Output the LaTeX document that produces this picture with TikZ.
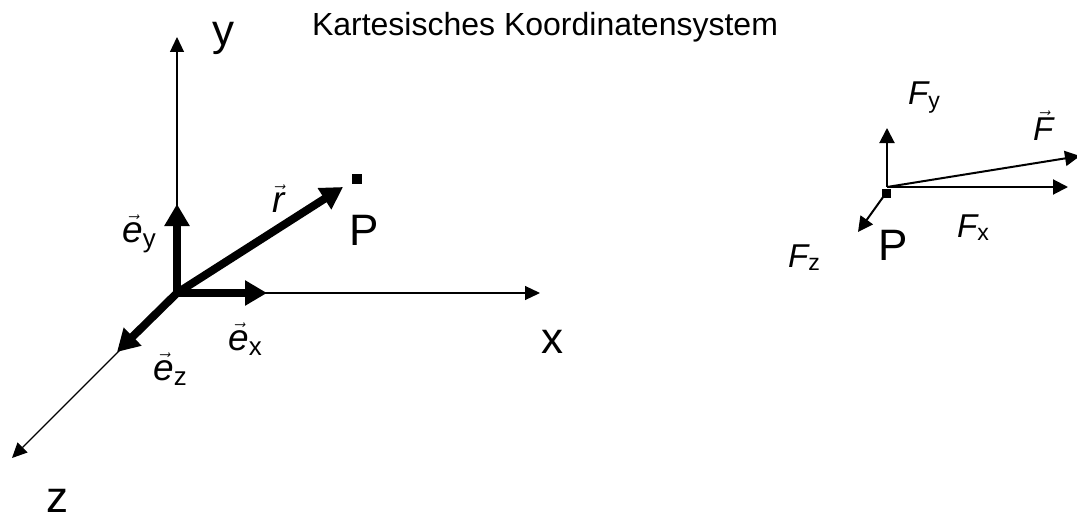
\documentclass[tikz,border=0pt]{standalone}
\usepackage{fontspec}
\setmainfont{Liberation Sans}
\usetikzlibrary{arrows.meta}

\newcommand{\vecit}[1]{$\vec{\mbox{\itshape #1}}$}

\begin{document}
\begin{tikzpicture}[x=1pt, y=-1pt,
  axis/.style={line width=1.2pt, -{Triangle[length=15pt,width=14pt]}},
  unitvec/.style={line width=8pt, line cap=round, -{Triangle[length=22pt,width=24pt]}},
  force/.style={line width=2pt, -{Triangle[length=15pt,width=15pt]}},
  biglabel/.style={font=\fontsize{44}{44}\selectfont, inner sep=0pt},
  veclabel/.style={font=\fontsize{37}{37}\selectfont, inner sep=0pt},
  forcelabel/.style={font=\fontsize{33}{33}\selectfont, inner sep=0pt}]
\useasboundingbox (0,0) rectangle (1077,519);
\node[font=\fontsize{32}{32}\selectfont, inner sep=0pt, anchor=base] (title) at (545,36) {Kartesisches Koordinatensystem};

% left: the coordinate system
\coordinate (O) at (177,293);
\coordinate (xtip) at (540,293);
\coordinate (ytip) at (177,37);
\coordinate (ztip) at (12,458);
\coordinate (extip) at (267,293);
\coordinate (eytip) at (177,204);
\coordinate (eztip) at (117,352);
\coordinate (rtip) at (343,187);
\draw[axis] (O) -- (xtip);
\draw[axis] (O) -- (ytip);
\draw[axis] (O) -- (ztip);
\draw[unitvec] (O) -- (extip);
\draw[unitvec] (O) -- (eytip);
\draw[unitvec] (O) -- (eztip);
\draw[unitvec] (O) -- (rtip);
\node[fill, minimum size=10pt, inner sep=0pt] (P) at (357,179) {};
\node[biglabel, anchor=base] (Plab) at (364,245) {P};
\node[biglabel, anchor=base] (xlab) at (552,353) {x};
\node[biglabel, anchor=base] (ylab) at (223,46) {y};
\node[biglabel, anchor=base] (zlab) at (57,512) {z};
\node[veclabel, anchor=base west] (exlab) at (228,350) {\vecit{e}\textsubscript{x}};
\node[veclabel, anchor=base west] (eylab) at (122,242) {\vecit{e}\textsubscript{y}};
\node[veclabel, anchor=base west] (ezlab) at (153,380) {\vecit{e}\textsubscript{z}};
\node[veclabel, anchor=base west] (rlab) at (272,212) {\vecit{r}};

% right: force in P
\coordinate (Q) at (887,187);
\coordinate (fxtip) at (1068,187);
\coordinate (fytip) at (887,128);
\coordinate (fztip) at (858,232);
\coordinate (ftip) at (1080,156);
\node[fill, minimum size=9pt, inner sep=0pt] (Qsq) at (886,193) {};
\draw[force] (Q) -- (fxtip);
\draw[force] (Q) -- (fytip);
\draw[force] (Qsq.center) -- (fztip);
\draw[force] (Q) -- (ftip);
\node[biglabel, anchor=base] (Qlab) at (893,260) {P};
\node[forcelabel, anchor=base west] (fxlab) at (957,237) {{\itshape F}\textsubscript{x}};
\node[forcelabel, anchor=base west] (fylab) at (908,105) {{\itshape F}\textsubscript{y}};
\node[forcelabel, anchor=base west] (fzlab) at (788,267) {{\itshape F}\textsubscript{z}};
\node[forcelabel, anchor=base west] (flab) at (1033,140) {\vecit{F}};
\end{tikzpicture}
\end{document}
